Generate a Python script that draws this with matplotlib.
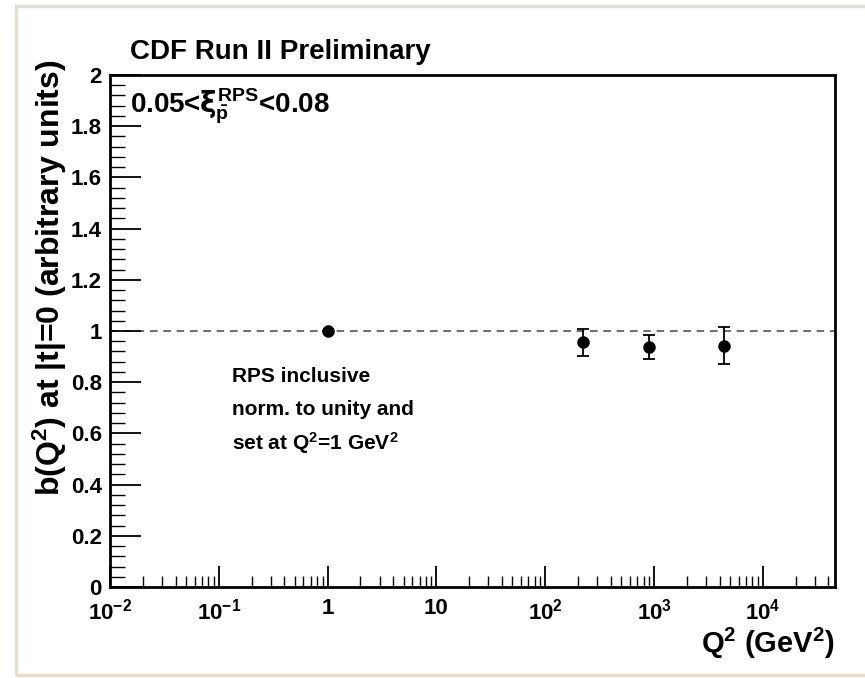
import matplotlib
matplotlib.use("Agg")
import matplotlib.pyplot as plt
from matplotlib.patches import Rectangle
from matplotlib.ticker import FixedLocator, FixedFormatter, NullFormatter
import numpy as np

plt.rcParams['font.family'] = ['Liberation Sans', 'DejaVu Sans']
plt.rcParams['font.weight'] = 'bold'
plt.rcParams['mathtext.fontset'] = 'custom'
plt.rcParams['mathtext.rm'] = 'Liberation Sans:bold'
plt.rcParams['mathtext.it'] = 'DejaVu Sans'
plt.rcParams['mathtext.bf'] = 'Liberation Sans:bold'
plt.rcParams['mathtext.default'] = 'rm'

# Measured slope ratio b(Q^2) at |t|=0, normalised at Q^2 = 1 GeV^2
q2_values = [1.0, 221.0, 894.0, 4400.0]
b_values = [1.0, 0.956, 0.938, 0.943]
b_errors = [0.0, 0.052, 0.048, 0.071]

x_tick_values = [1e-2, 1e-1, 1, 10, 1e2, 1e3, 1e4]
x_tick_labels = [r'$10^{-2}$', r'$10^{-1}$', '1', '10', r'$10^{2}$', r'$10^{3}$', r'$10^{4}$']
y_tick_values = [0, 0.2, 0.4, 0.6, 0.8, 1.0, 1.2, 1.4, 1.6, 1.8, 2.0]
y_tick_labels = ['0', '0.2', '0.4', '0.6', '0.8', '1', '1.2', '1.4', '1.6', '1.8', '2']

W, H = 865, 678
fig = plt.figure(figsize=(W / 100, H / 100), dpi=100)
fig.patch.set_facecolor('white')

# canvas frame
fig.patches.append(Rectangle((16 / W, 1 - 675 / H), (W + 10 - 16) / W, (675 - 6) / H,
                             transform=fig.transFigure, fill=False,
                             edgecolor='#e6dfcd', linewidth=2.5, zorder=0))

left, right, top, bottom = 110, 835, 75, 587
ax = fig.add_axes([left / W, 1 - bottom / H, (right - left) / W, (bottom - top) / H])
ax.set_xscale('log')
ax.set_xlim(1e-2, 4.6e4)
ax.set_ylim(0, 2)

for s in ax.spines.values():
    s.set_linewidth(2.0)
    s.set_color('black')

ax.axhline(1.0, color='#555555', linestyle=(0, (4.5, 3.5)), linewidth=1.2, zorder=1)

ax.errorbar(q2_values, b_values, yerr=b_errors, fmt='o', color='black',
            markersize=8, elinewidth=1.3, capsize=4, capthick=1.3, zorder=3)

# ticks
ax.xaxis.set_major_locator(FixedLocator(x_tick_values))
ax.xaxis.set_major_formatter(FixedFormatter(x_tick_labels))
minor_x = [m * 10.0 ** e for e in range(-2, 5) for m in range(2, 10)]
ax.xaxis.set_minor_locator(FixedLocator(minor_x))
ax.xaxis.set_minor_formatter(NullFormatter())
ax.yaxis.set_major_locator(FixedLocator(y_tick_values))
ax.yaxis.set_major_formatter(FixedFormatter(y_tick_labels))
ax.yaxis.set_minor_locator(FixedLocator(np.arange(0, 2.0001, 0.04)))

ax.tick_params(axis='x', which='major', direction='in', length=15, width=1.3,
               labelsize=16, pad=8, top=False)
ax.tick_params(axis='x', which='minor', direction='in', length=8, width=1.0, top=False)
ax.tick_params(axis='y', which='major', direction='in', length=22, width=1.3,
               labelsize=16, pad=6, right=False)
ax.tick_params(axis='y', which='minor', direction='in', length=11, width=1.0, right=False)
for lbl in ax.get_xticklabels() + ax.get_yticklabels():
    lbl.set_fontweight('bold')

fig.text(50 / W, 1 - 60 / H, r'b(Q$^{2}$) at |t|=0 (arbitrary units)', fontsize=23,
         fontweight='bold', rotation=90, ha='center', va='top')
fig.text(835 / W, 1 - 643 / H, r'Q$^{2}$ (GeV$^{2}$)', fontsize=21, fontweight='bold',
         ha='right', va='center')

fig.text(130 / W, 1 - 52 / H, 'CDF Run II Preliminary', fontsize=20, fontweight='bold',
         va='center', ha='left')
fig.text(130 / W, 1 - 106 / H, r'0.05<$\mathit{\xi}_{\bar{p}}^{RPS}$<0.08', fontsize=20,
         fontweight='bold', va='center', ha='left')

notes = ['RPS inclusive', 'norm. to unity and', r'set at Q$^{2}$=1 GeV$^{2}$']
for i, line in enumerate(notes):
    fig.text(232 / W, 1 - (376 + 33.5 * i) / H, line, fontsize=15, fontweight='bold',
             va='center', ha='left')

fig.savefig('out.png', dpi=100)
